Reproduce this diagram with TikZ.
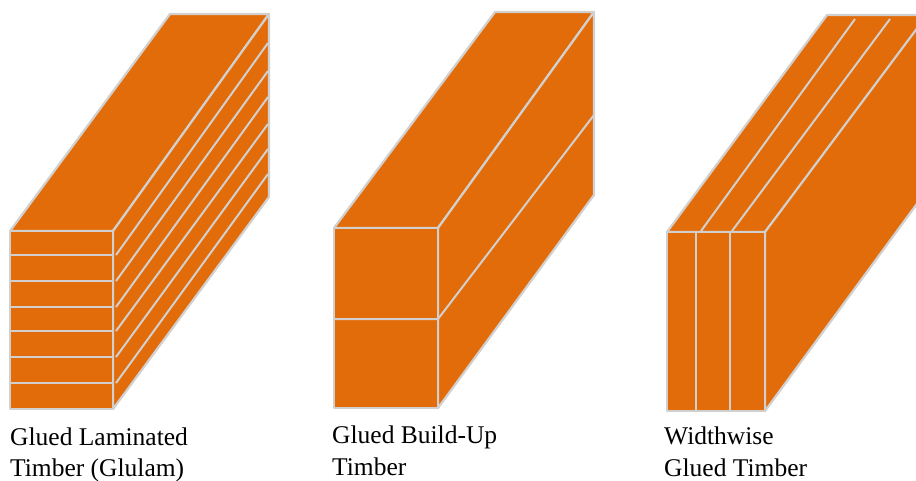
\documentclass[tikz,border=0pt]{standalone}
\usepackage{fontspec}
\setmainfont{Liberation Serif}
\tikzset{
  face/.style={fill=woodfill,draw=woodline,line width=2.2pt,line join=round},
  seam/.style={draw=woodline,line width=2pt,line join=round},
  caption/.style={anchor=base west,inner sep=0pt,font=\fontsize{25.5pt}{30pt}\selectfont,text=black}
}
\definecolor{woodfill}{HTML}{E36C0A}
\definecolor{woodline}{HTML}{D2D0CE}
\begin{document}
\begin{tikzpicture}[x=1pt,y=-1pt]
\useasboundingbox (0,0) rectangle (916,480);
\begin{scope}
\clip (0,0) rectangle (916,480);
% Glulam
\draw[face] (10,231) -- (170,14) -- (269,14) -- (113,231) -- cycle;
\draw[face] (113,231) -- (269,14) -- (269,197) -- (113,409) -- cycle;
\draw[face] (10,231) rectangle (113,409);
\foreach \a/\b in {255/43,281/71,307/97,331/124,357/149,383/174}{
  \draw[seam] (10,\a) -- (113,\a);
  \draw[seam] (116,\a) -- (268,\b);
}
% Build-up
\draw[face] (334,228) -- (495,12) -- (594,12) -- (438,228) -- cycle;
\draw[face] (438,228) -- (594,12) -- (594,195) -- (438,408) -- cycle;
\draw[face] (334,228) rectangle (438,408);
\draw[seam] (334,319) -- (438,319) -- (594,115);
% Widthwise
\draw[face] (667,232) -- (827,15) -- (930,15) -- (765,232) -- cycle;
\draw[face] (765,232) -- (930,11) -- (930,186) -- (765,411) -- cycle;
\draw[face] (667,232) rectangle (765,411);
\draw[seam] (696,232) -- (696,411);
\draw[seam] (730,232) -- (730,411);
\draw[seam] (701,231) -- (855,19);
\draw[seam] (732,231) -- (890,19);
\end{scope}
% Captions
\node[caption] (a1) at (10,445) {Glued Laminated};
\node[caption] (a2) at (10,476) {Timber (Glulam)};
\node[caption] (b1) at (332,443) {Glued Build-Up};
\node[caption] (b2) at (332,475) {Timber};
\node[caption] (c1) at (664,444) {Widthwise};
\node[caption] (c2) at (664,476) {Glued Timber};
\end{tikzpicture}
\end{document}
